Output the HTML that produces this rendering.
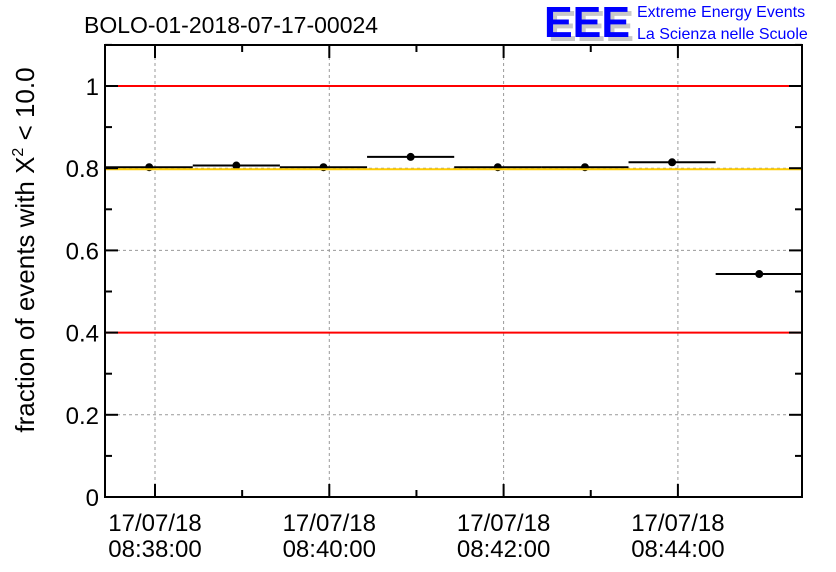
<!DOCTYPE html>
<html><head><meta charset="utf-8"><style>body{margin:0;background:#fff}svg{display:block;font-family:"Liberation Sans",sans-serif}</style></head>
<body>
<svg id="c" width="836" height="572" xmlns="http://www.w3.org/2000/svg">
<text x="84" y="33" font-size="23">BOLO-01-2018-07-17-00024</text>
<g>
<text x="548" y="41" font-size="44" font-weight="bold" fill="#c8c8c8" textLength="86" lengthAdjust="spacingAndGlyphs">EEE</text>
<text x="544" y="37" font-size="44" font-weight="bold" fill="#0000ff" textLength="86" lengthAdjust="spacingAndGlyphs">EEE</text>
<text x="637" y="17" font-size="16" fill="#0000ff">Extreme Energy Events</text>
<text x="637" y="39" font-size="16" fill="#0000ff">La Scienza nelle Scuole</text>
</g>
<text transform="translate(34,250) rotate(-90)" font-size="26" text-anchor="middle">fraction of events with Χ<tspan dy="-11" font-size="16">2</tspan><tspan dy="11"> &lt; 10.0</tspan></text>
<g id="plot"></g>
</svg>
<script>
const xTimes=[-4,56,116,176,236,296,356,416];
const yVals=[0.800,0.804,0.800,0.825,0.800,0.800,0.812,0.540];
const halfWidth=30;
const yTicks=[0,0.2,0.4,0.6,0.8,1];
const yTickLabels=["0","0.2","0.4","0.6","0.8","1"];
const xMajor=[0,120,240,360];
const xLabels=[["17/07/18","08:38:00"],["17/07/18","08:40:00"],["17/07/18","08:42:00"],["17/07/18","08:44:00"]];
const redLines=[1,0.4];
const yellowLine=[0.8];
const L=105,R=802,T=45,B=497;
const X=t=>155+t*(174.3/120);
const Y=v=>497-v*411;
const ns="http://www.w3.org/2000/svg",g=document.getElementById('plot');
function el(tag,a,name){const e=document.createElementNS(ns,tag);for(const k in a)e.setAttribute(k,a[k]);


g.appendChild(e);return e;}
const cx=v=>Math.max(L,Math.min(R,v));
xMajor.forEach(t=>el('line',{x1:X(t),x2:X(t),y1:T,y2:B,stroke:'#999','stroke-dasharray':'3,3','stroke-width':1},'x-grid-line'));
yTicks.forEach(v=>el('line',{x1:L,x2:R,y1:Y(v),y2:Y(v),stroke:'#999','stroke-dasharray':'3,3','stroke-width':1},'y-grid-line'));
redLines.forEach(v=>el('line',{x1:L,x2:R,y1:Y(v),y2:Y(v),stroke:'#ff0000','stroke-width':2},'red-reference-line'));
xTimes.forEach((t,i)=>{const y=Y(yVals[i])-1;
el('line',{x1:cx(X(t-halfWidth)),x2:cx(X(t+halfWidth)),y1:y,y2:y,stroke:'#000','stroke-width':2},'error-bar');
el('circle',{cx:X(t),cy:y,r:4,fill:'#000'},'data-point');});
yellowLine.forEach(v=>el('line',{x1:L,x2:R,y1:Y(v)+1,y2:Y(v)+1,stroke:'#ffcc00','stroke-width':2},'yellow-reference-line'));
for(let i=0;i<8;i++){const t=-60+i*60;const x=X(t);if(x<L||x>R)continue;const len=(t%120===0)?13:7;
el('line',{x1:x,x2:x,y1:B,y2:B-len,stroke:'#000','stroke-width':2},'x-tick');
el('line',{x1:x,x2:x,y1:T,y2:T+len,stroke:'#000','stroke-width':2},'x-tick-top');}
for(let k=0;k<=11;k++){const y=Y(k/10);const len=(k%2===0)?13:7;
el('line',{x1:L,x2:L+len,y1:y,y2:y,stroke:'#000','stroke-width':2},'y-tick');
el('line',{x1:R,x2:R-len,y1:y,y2:y,stroke:'#000','stroke-width':2},'y-tick-right');}
yTicks.forEach((v,i)=>{const t=el('text',{x:99,y:Y(v)+9,'font-size':24,'text-anchor':'end'},'y-tick-label');t.textContent=yTickLabels[i];});
xMajor.forEach((tm,i)=>{[0,1].forEach(j=>{const t=el('text',{x:X(tm),y:531+j*26,'font-size':24,'text-anchor':'middle'},'x-tick-label');t.textContent=xLabels[i][j];});});
el('rect',{x:L,y:T,width:R-L,height:B-T,fill:'none',stroke:'#000','stroke-width':2},'plot-frame');
</script>
</body></html>
